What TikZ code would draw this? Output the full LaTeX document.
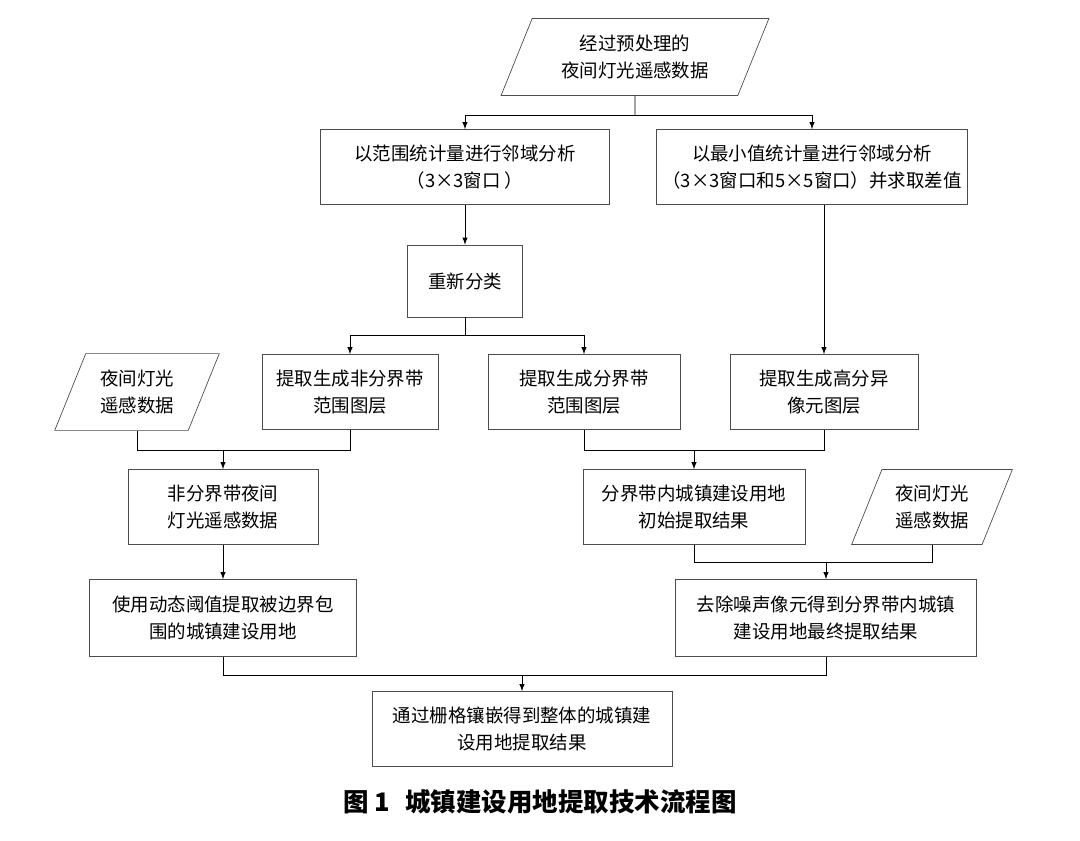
\documentclass[tikz,border=0pt]{standalone}
\usepackage{fontspec}
\setmainfont{Liberation Serif}
\newfontfamily\cjk{Noto Sans CJK SC}
\usetikzlibrary{shapes.geometric}
\begin{document}
\begin{tikzpicture}[
                    x=0.02cm, y=-0.02cm,
                    >=latex,
                    box/.style={rectangle, draw=black!70, align=center, font=\cjk\fontsize{10.5pt}{15pt}\selectfont},
                    data/.style={trapezium, trapezium left angle=68, trapezium right angle=112, draw=black!70, align=center, inner xsep=0pt, font=\cjk\fontsize{10.5pt}{15pt}\selectfont}
                ]
                \useasboundingbox (0,0) rectangle (1080,841);
                % Blocks
                \node [data, minimum width=4.0cm, minimum height=1.54cm] (raw) at (635,57) {经过预处理的\\夜间灯光遥感数据};
                \node [box, minimum width=5.78cm, minimum height=1.5cm] (range) at (465,167) {以范围统计量进行邻域分析\\（3×3窗口 ）};
                \node [box, minimum width=6.18cm, minimum height=1.5cm] (minv) at (812,167) {以最小值统计量进行邻域分析\\（3×3窗口和5×5窗口）并求取差值};
                \node [box, minimum width=2.3cm, minimum height=1.44cm] (recl) at (465,281) {重新分类};
                \node [data, minimum width=3.3cm, minimum height=1.46cm] (ntl1) at (137,392) {夜间灯光\\遥感数据};
                \node [box, minimum width=3.52cm, minimum height=1.5cm] (nonb) at (350,392) {提取生成非分界带\\范围图层};
                \node [box, minimum width=3.84cm, minimum height=1.5cm] (bnd) at (584,392) {提取生成分界带\\范围图层};
                \node [box, minimum width=3.76cm, minimum height=1.5cm] (hdiff) at (824,392) {提取生成高分异\\像元图层};
                \node [box, minimum width=3.8cm, minimum height=1.5cm] (nonbntl) at (223,507) {非分界带夜间\\灯光遥感数据};
                \node [box, minimum width=4.44cm, minimum height=1.5cm] (init) at (694,507) {分界带内城镇建设用地\\初始提取结果};
                \node [data, minimum width=2.7cm, minimum height=1.5cm] (ntl2) at (932,507) {夜间灯光\\遥感数据};
                \node [box, minimum width=5.34cm, minimum height=1.54cm] (thr) at (223,618) {使用动态阈值提取被边界包\\围的城镇建设用地};
                \node [box, minimum width=6.02cm, minimum height=1.54cm] (fin) at (826,618) {去除噪声像元得到分界带内城镇\\建设用地最终提取结果};
                \node [box, minimum width=6.0cm, minimum height=1.5cm] (mosaic) at (522,729) {通过栅格镶嵌得到整体的城镇建\\设用地提取结果};
                \node [font=\cjk\bfseries\fontsize{14.5pt}{16pt}\selectfont] (cap) at (540,802) {图 1\hspace{0.6em}城镇建设用地提取技术流程图};

                % Junctions
                \coordinate (j1) at (635,115);
                \coordinate (j2) at (465,335);
                \coordinate (j3) at (223,450);
                \coordinate (j4) at (694,450);
                \coordinate (j5) at (826,562);
                \coordinate (j6) at (522,675);

                % Connections
                \draw (raw.south) -- (j1);
                \draw [->] (j1) -| (range.north);
                \draw [->] (j1) -| (minv.north);
                \draw [->] (range.south) -- (recl.north);
                \draw (recl.south) -- (j2);
                \draw [->] (j2) -| (nonb.north);
                \draw [->] (j2) -| (bnd.north);
                \draw [->] (minv.south -| hdiff.north) -- (hdiff.north);
                \draw (ntl1.south) |- (j3);
                \draw (nonb.south) |- (j3);
                \draw [->] (j3) -- (nonbntl.north);
                \draw (bnd.south) |- (j4);
                \draw (hdiff.south) |- (j4);
                \draw [->] (j4) -- (init.north);
                \draw (init.south) |- (j5);
                \draw (ntl2.south) |- (j5);
                \draw [->] (j5) -- (fin.north);
                \draw [->] (nonbntl.south) -- (thr.north);
                \draw (thr.south) |- (j6);
                \draw (fin.south) |- (j6);
                \draw [->] (j6) -- (mosaic.north);
            \end{tikzpicture}
\end{document}
